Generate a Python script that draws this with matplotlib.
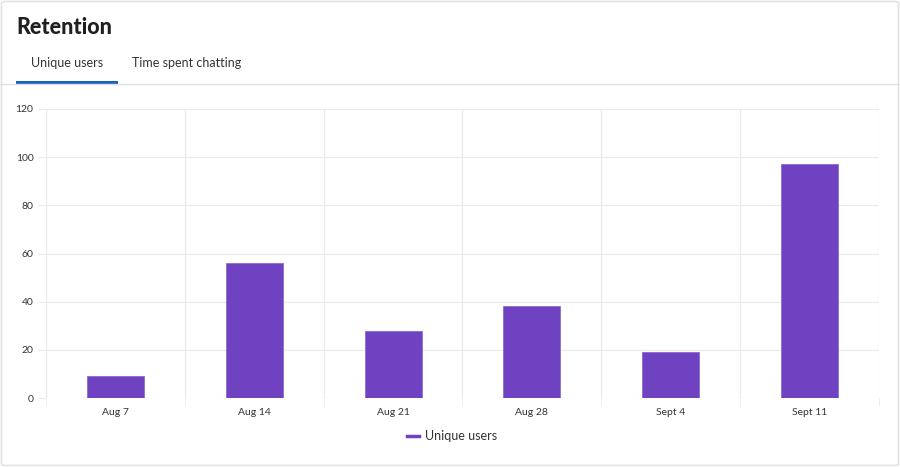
import matplotlib
matplotlib.use("Agg")
import matplotlib.pyplot as plt
from matplotlib.patches import FancyBboxPatch, Rectangle
from matplotlib.lines import Line2D

categories = ["Aug 7", "Aug 14", "Aug 21", "Aug 28", "Sept 4", "Sept 11"]
unique_users = [9, 56, 28, 38, 19, 97]
y_ticks = [0, 20, 40, 60, 80, 100, 120]

BAR = "#6f42c1"
GRID = "#ebebeb"
TXT = "#333333"

plt.rcParams['font.family'] = ['Lato', 'DejaVu Sans']

W, H = 900, 467
fig = plt.figure(figsize=(W / 100, H / 100), dpi=100)
fig.patch.set_facecolor("white")

# card border
card = FancyBboxPatch((1.5 / W, 1.5 / H), (W - 3) / W, (H - 3) / H,
                      boxstyle="round,pad=0,rounding_size=0.004",
                      transform=fig.transFigure, facecolor="white",
                      edgecolor="#e2e2e2", linewidth=1.2, zorder=-10)
fig.patches.append(card)

# title and tabs
fig.text(16 / W, 1 - 27 / H, "Retention", fontsize=15.5, fontweight="black",
         color="#1f1f1f", va="center", ha="left")
fig.text(31 / W, 1 - 63 / H, "Unique users", fontsize=9, color=TXT,
         va="center", ha="left")
fig.text(132 / W, 1 - 63 / H, "Time spent chatting", fontsize=9, color=TXT,
         va="center", ha="left")
fig.add_artist(Line2D([0, 1], [1 - 83.5 / H, 1 - 83.5 / H], transform=fig.transFigure,
                      color="#e0e0e0", linewidth=1))
fig.patches.append(Rectangle((16 / W, 1 - 83.5 / H), 102 / W, 2.2 / H,
                             transform=fig.transFigure, facecolor="#1565c0",
                             edgecolor="none"))

# chart
ax = fig.add_axes([46 / W, 1 - 398 / H, (879 - 46) / W, (398 - 109) / H])
ax.set_facecolor("none")
x = list(range(len(categories)))
ax.bar(x, unique_users, width=0.41, color=BAR, edgecolor="#8a6bd1", linewidth=0.6,
       zorder=3)
ax.set_xlim(-0.5, len(categories) - 0.5)
ax.set_ylim(0, 120)
ax.set_yticks(y_ticks)
ax.set_yticklabels([str(v) for v in y_ticks])
ax.set_xticks(x)
ax.set_xticklabels(categories)
ax.set_xticks([i - 0.5 for i in range(len(categories) + 1)], minor=True)
ax.grid(True, axis="y", color=GRID, linewidth=0.9, zorder=0)
ax.grid(True, axis="x", which="minor", color=GRID, linewidth=0.9, zorder=0)
ax.grid(False, axis="x", which="major")
for s in ax.spines.values():
    s.set_visible(False)
ax.tick_params(axis="y", length=6, color=GRID, labelsize=7.5, labelcolor=TXT, pad=3)
ax.tick_params(axis="x", which="major", length=0, labelsize=7.5, labelcolor=TXT, pad=7)
ax.tick_params(axis="x", which="minor", length=6, color=GRID)

handle = Line2D([], [], color=BAR, linewidth=2.5)
fig.legend([handle], ["Unique users"], loc="center", bbox_to_anchor=(452 / W, 1 - 436 / H),
           frameon=False, fontsize=9, handlelength=1.0, handletextpad=0.5,
           labelcolor=TXT)

fig.savefig("out.png", dpi=100)
